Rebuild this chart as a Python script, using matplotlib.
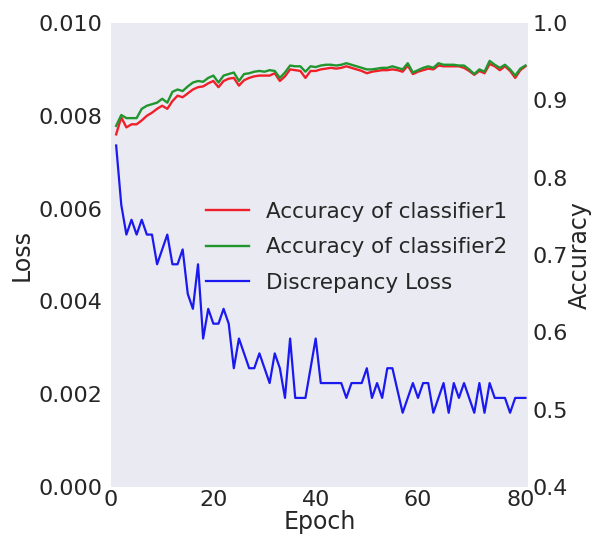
import matplotlib
matplotlib.use('Agg')
import matplotlib.pyplot as plt

# epochs 1..81
epochs = list(range(1, 82))

acc_clf1 = [0.856, 0.878, 0.865, 0.869, 0.869, 0.874, 0.880, 0.884, 0.889, 0.893,
            0.889, 0.899, 0.906, 0.904, 0.909, 0.914, 0.917, 0.918, 0.922, 0.925,
            0.917, 0.925, 0.928, 0.929, 0.919, 0.926, 0.929, 0.931, 0.932, 0.932,
            0.932, 0.935, 0.925, 0.931, 0.940, 0.939, 0.938, 0.929, 0.938, 0.938,
            0.940, 0.941, 0.942, 0.941, 0.942, 0.944, 0.942, 0.940, 0.938, 0.935,
            0.937, 0.938, 0.939, 0.939, 0.940, 0.939, 0.937, 0.945, 0.934, 0.937,
            0.939, 0.941, 0.940, 0.945, 0.944, 0.944, 0.944, 0.944, 0.942, 0.938,
            0.933, 0.938, 0.935, 0.947, 0.944, 0.939, 0.944, 0.938, 0.929, 0.939, 0.944]

acc_clf2 = [0.867, 0.881, 0.877, 0.877, 0.877, 0.889, 0.893, 0.895, 0.897, 0.902,
            0.897, 0.911, 0.914, 0.912, 0.918, 0.923, 0.925, 0.924, 0.929, 0.932,
            0.923, 0.932, 0.934, 0.936, 0.925, 0.934, 0.935, 0.937, 0.938, 0.937,
            0.939, 0.938, 0.929, 0.936, 0.945, 0.944, 0.944, 0.937, 0.944, 0.943,
            0.945, 0.946, 0.946, 0.945, 0.946, 0.948, 0.946, 0.944, 0.942, 0.940,
            0.940, 0.941, 0.942, 0.942, 0.944, 0.942, 0.940, 0.948, 0.936, 0.939,
            0.942, 0.944, 0.942, 0.948, 0.946, 0.946, 0.946, 0.945, 0.945, 0.940,
            0.934, 0.940, 0.937, 0.951, 0.946, 0.942, 0.946, 0.940, 0.932, 0.941, 0.945]

disc_loss = [0.00736, 0.00608, 0.00544, 0.00576, 0.00544, 0.00576, 0.00544, 0.00544, 0.00480, 0.00512,
             0.00544, 0.00480, 0.00480, 0.00512, 0.00416, 0.00384, 0.00480, 0.00320, 0.00384, 0.00352,
             0.00352, 0.00384, 0.00352, 0.00256, 0.00320, 0.00288, 0.00256, 0.00256, 0.00288, 0.00256,
             0.00224, 0.00288, 0.00256, 0.00192, 0.00320, 0.00192, 0.00192, 0.00192, 0.00256, 0.00320,
             0.00224, 0.00224, 0.00224, 0.00224, 0.00224, 0.00192, 0.00224, 0.00224, 0.00224, 0.00256,
             0.00192, 0.00224, 0.00192, 0.00256, 0.00256, 0.00208, 0.00160, 0.00192, 0.00224, 0.00192,
             0.00224, 0.00224, 0.00160, 0.00192, 0.00224, 0.00160, 0.00224, 0.00192, 0.00224, 0.00192,
             0.00160, 0.00224, 0.00160, 0.00224, 0.00192, 0.00192, 0.00192, 0.00160, 0.00192, 0.00192, 0.00192]

loss_ticks = [0.000, 0.002, 0.004, 0.006, 0.008, 0.010]
acc_ticks = [0.4, 0.5, 0.6, 0.7, 0.8, 0.9, 1.0]
epoch_ticks = [0, 20, 40, 60, 80]

plt.rcParams['font.family'] = 'DejaVu Sans'
text_col = '#262626'

fig = plt.figure(figsize=(5.97, 5.41), dpi=100)
ax = fig.add_axes([0.186, 0.0998, 0.6984, 0.8577])
ax.set_facecolor('#EAEAF2')

l3, = ax.plot(epochs, disc_loss, color='#1a1af0', lw=1.6, label='Discrepancy Loss')
ax.set_xlim(0, 81.5)
ax.set_ylim(0, 0.010)
ax.set_xticks(epoch_ticks)
ax.set_yticks(loss_ticks)
ax.set_yticklabels(['%.3f' % t for t in loss_ticks])
ax.set_xlabel('Epoch', fontsize=17, color=text_col, labelpad=0)
ax.set_ylabel('Loss', fontsize=17, color=text_col, labelpad=4)
ax.tick_params(axis='y', length=0, pad=6, labelsize=16, labelcolor=text_col)
ax.tick_params(axis='x', length=0, pad=2, labelsize=16, labelcolor=text_col)

ax2 = ax.twinx()
l1, = ax2.plot(epochs, acc_clf1, color='#f0202a', lw=1.7, label='Accuracy of classifier1')
l2, = ax2.plot(epochs, acc_clf2, color='#22962e', lw=1.7, label='Accuracy of classifier2')
ax2.set_ylim(0.4, 1.0)
ax2.set_yticks(acc_ticks)
ax2.set_yticklabels(['%.1f' % t for t in acc_ticks])
ax2.set_ylabel('Accuracy', fontsize=17, color=text_col, labelpad=0)
ax2.tick_params(axis='y', length=0, pad=3, labelsize=16, labelcolor=text_col)

for a in (ax, ax2):
    for s in a.spines.values():
        s.set_visible(False)

leg = ax2.legend(handles=[l1, l2, l3], loc='upper left', bbox_to_anchor=(0.206, 0.633),
                 borderaxespad=0, frameon=False, fontsize=15.5, labelspacing=0.72)
for t in leg.get_texts():
    t.set_color(text_col)

fig.savefig('out.png', dpi=100)
